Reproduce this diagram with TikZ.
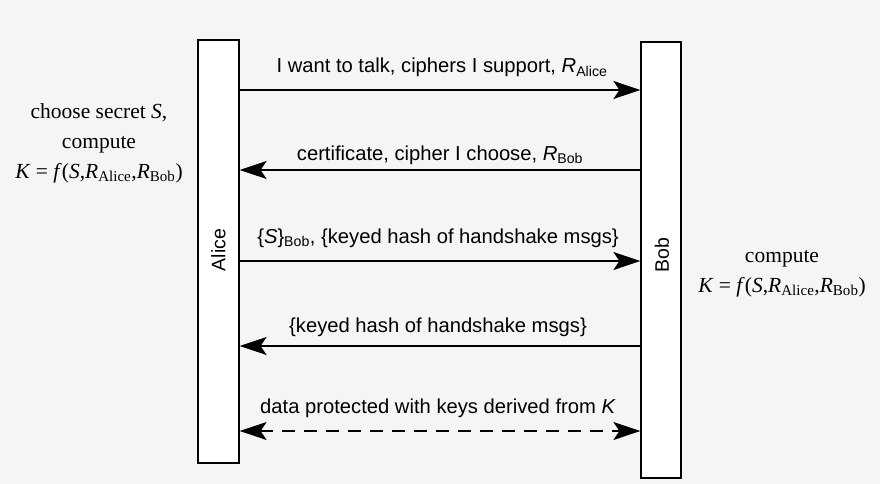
\documentclass[tikz,border=0pt]{standalone}
\usepackage{fontspec}
\setmainfont{Liberation Sans}
\newfontfamily\sidefont{Liberation Serif}
\usetikzlibrary{arrows.meta,positioning}

\tikzset{
  party/.style={draw, fill=white, line width=1.2pt, minimum width=41pt, inner sep=0pt},
  partyname/.style={rotate=90, font=\fontsize{19.5}{22}\selectfont, inner sep=0pt},
  msg/.style={line width=1.2pt, -{Stealth[length=27pt,width=18pt,inset=6pt]}},
  datamsg/.style={line width=1.2pt, dash pattern=on 13pt off 9pt,
    {Stealth[length=27pt,width=18pt,inset=6pt]}-{Stealth[length=27pt,width=18pt,inset=6pt]}},
  msgtext/.style={font=\fontsize{20.2}{23}\selectfont, anchor=base, inner sep=0pt},
  sidetext/.style={font=\sidefont\fontsize{21.5}{29.5}\selectfont, align=center, anchor=base, inner sep=0pt},
}

\begin{document}
\begin{tikzpicture}[x=1pt, y=-1pt]
  \useasboundingbox (0,0) rectangle (880,484);
  \fill[black!4] (0,0) rectangle (880,484);

  \node [party, minimum height=423pt] (alice) at (218.5,251.5) {};
  \node [party, minimum width=40pt, minimum height=436pt] (bob) at (661,260) {};
  \node [partyname] (alicename) at (218.5,250) {Alice};
  \node [partyname] (bobname) at (662,255) {Bob};

  \coordinate (y1) at (0,90);
  \coordinate (y2) at (0,170);
  \coordinate (y3) at (0,261);
  \coordinate (y4) at (0,346);
  \coordinate (y5) at (0,431);

  \draw [msg] (alice.east |- y1) -- (bob.west |- y1);
  \draw [msg] (bob.west |- y2) -- (alice.east |- y2);
  \draw [msg] (alice.east |- y3) -- (bob.west |- y3);
  \draw [msg] (bob.west |- y4) -- (alice.east |- y4);
  \draw [datamsg] (alice.east |- y5) -- (bob.west |- y5);

  \node [msgtext] (m1) at (442,73) {I want to talk, ciphers I support, \textit{R}\textsubscript{Alice}};
  \node [msgtext] (m2) at (440,160) {certificate, cipher I choose, \textit{R}\textsubscript{Bob}};
  \node [msgtext] (m3) at (438,243) {\{\textit{S}\}\textsubscript{Bob}, \{keyed hash of handshake msgs\}};
  \node [msgtext] (m4) at (438,332) {\{keyed hash of handshake msgs\}};
  \node [msgtext] (m5) at (438,413) {data protected with keys derived from \textit{K}};

  \node [sidetext] (alicework) at (99,178) {choose secret \textit{S},\\ compute\\
    \textit{K} = \textit{f}(\textit{S},\textit{R}\textsubscript{Alice},\textit{R}\textsubscript{Bob})};
  \node [sidetext] (bobwork) at (782,292) {compute\\
    \textit{K} = \textit{f}(\textit{S},\textit{R}\textsubscript{Alice},\textit{R}\textsubscript{Bob})};
\end{tikzpicture}
\end{document}
